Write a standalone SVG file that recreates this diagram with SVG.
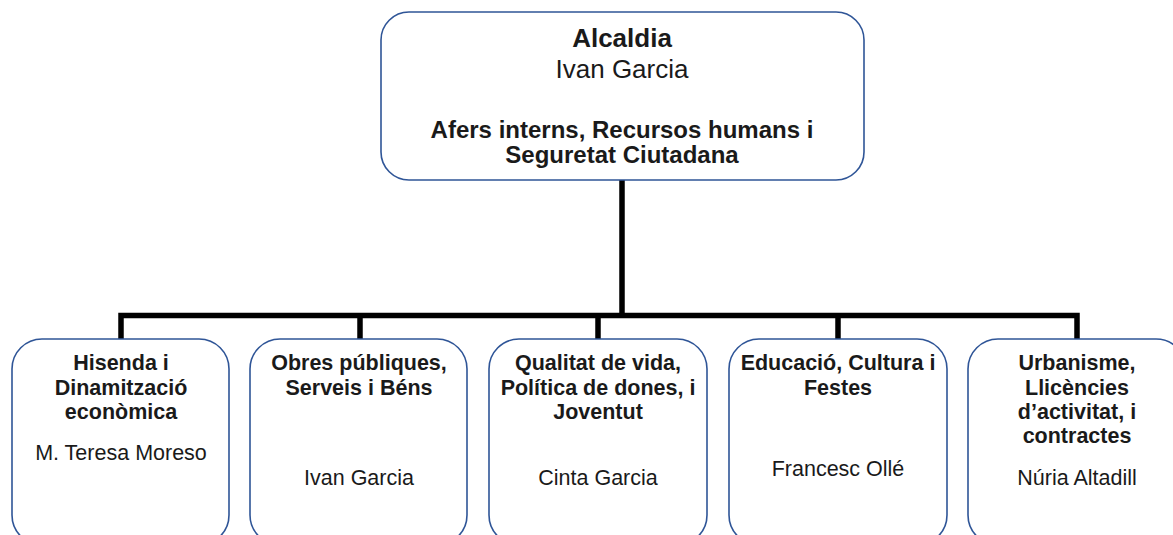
<svg xmlns="http://www.w3.org/2000/svg" width="1173" height="535" viewBox="0 0 1173 535">
<style>
.box{fill:#ffffff;stroke:#2f5597;stroke-width:1.6}
.conn{stroke:#000000;stroke-width:5.5;fill:none;stroke-linecap:square}
text{font-family:"Liberation Sans",Arial,sans-serif;fill:#1a1a1a;text-anchor:middle}
.b{font-weight:bold}
.t1{font-size:26px}
.t2{font-size:24px}
.s{font-size:21.5px}
</style>
<rect width="1173" height="535" fill="#ffffff"/>
<g id="connectors">
<path class="conn" d="M622 180 V315.5 M121 339 V315.5 H1077 V339 M360 315.5 V339 M598 315.5 V339 M838 315.5 V339"/>
</g>
<g id="alcaldia">
<rect class="box" x="381" y="12" width="483" height="168" rx="28"/>
<text class="b t1" x="622" y="47">Alcaldia</text>
<text class="t1" x="622" y="78">Ivan Garcia</text>
<text class="b t2" x="622" y="138">Afers interns, Recursos humans i</text>
<text class="b t2" x="622" y="163">Seguretat Ciutadana</text>
</g>
<g id="hisenda">
<rect class="box" x="12" y="339" width="217" height="206" rx="30"/>
<text class="b s" x="121" y="370">Hisenda i</text>
<text class="b s" x="121" y="395">Dinamització</text>
<text class="b s" x="121" y="419">econòmica</text>
<text class="s" x="121" y="460">M. Teresa Moreso</text>
</g>
<g id="obres">
<rect class="box" x="250" y="339" width="217" height="206" rx="30"/>
<text class="b s" x="359" y="370">Obres públiques,</text>
<text class="b s" x="359" y="395">Serveis i Béns</text>
<text class="s" x="359" y="485">Ivan Garcia</text>
</g>
<g id="qualitat">
<rect class="box" x="489" y="339" width="218" height="206" rx="30"/>
<text class="b s" x="598" y="370">Qualitat de vida,</text>
<text class="b s" x="598" y="395">Política de dones, i</text>
<text class="b s" x="598" y="419">Joventut</text>
<text class="s" x="598" y="485">Cinta Garcia</text>
</g>
<g id="educacio">
<rect class="box" x="729" y="339" width="218" height="206" rx="30"/>
<text class="b s" x="838" y="370">Educació, Cultura i</text>
<text class="b s" x="838" y="395">Festes</text>
<text class="s" x="838" y="476">Francesc Ollé</text>
</g>
<g id="urbanisme">
<rect class="box" x="968" y="339" width="218" height="206" rx="30"/>
<text class="b s" x="1077" y="370">Urbanisme,</text>
<text class="b s" x="1077" y="395">Llicències</text>
<text class="b s" x="1077" y="419">d’activitat, i</text>
<text class="b s" x="1077" y="443">contractes</text>
<text class="s" x="1077" y="485">Núria Altadill</text>
</g>
</svg>
